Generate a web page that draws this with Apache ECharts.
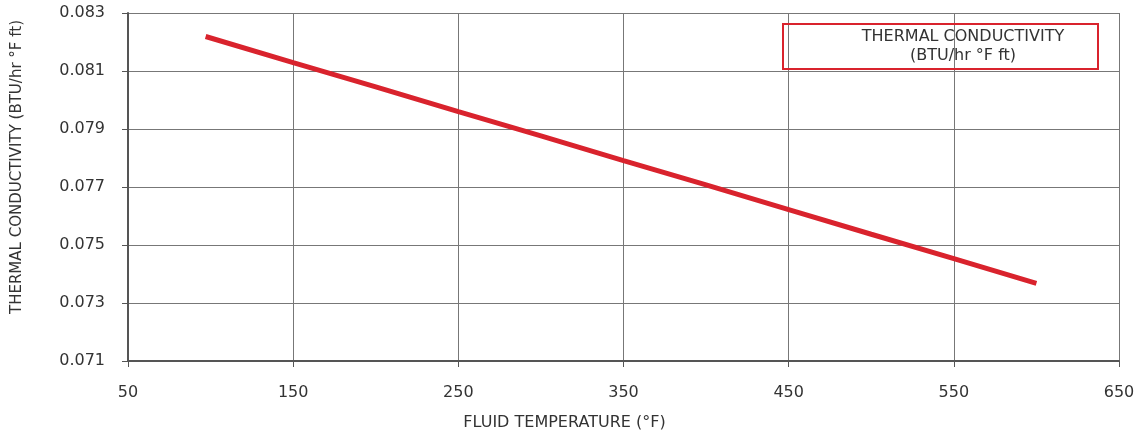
<!DOCTYPE html>
<html>
<head>
<meta charset="utf-8">
<script src="https://cdn.jsdelivr.net/npm/echarts@6/dist/echarts.min.js"></script>
<style>
  html, body { margin: 0; padding: 0; background: #fff; }
  #chart { width: 1144px; height: 436px; }
</style>
</head>
<body>
<div id="chart"></div>
<script>
// fluid temperature (°F) and thermal conductivity (BTU/hr °F ft)
const temps = [97, 150, 200, 250, 300, 350, 400, 450, 500, 550, 600];
const conductivity = [0.08219, 0.08129, 0.08045, 0.07960, 0.07876, 0.07791, 0.07707, 0.07622, 0.07537, 0.07453, 0.07368];

const seriesName = 'THERMAL CONDUCTIVITY';
const seriesUnit = '(BTU/hr °F ft)';

const chart = echarts.init(document.getElementById('chart'));

const font = 'DejaVu Sans';
const textColor = '#333';

const option = {
  backgroundColor: '#fff',
  animation: false,
  grid: { left: 128, right: 25, top: 13, bottom: 74 },
  legend: {
    data: [seriesName],
    right: 46,
    top: 24,
    icon: 'none',
    itemWidth: 0,
    itemGap: 0,
    borderColor: '#d9232d',
    borderWidth: 2,
    borderRadius: 0,
    padding: [5, 12, 5, 52],
    formatter: () => '{a|' + seriesName + '}\n{a|' + seriesUnit + '}',
    textStyle: {
      fontFamily: font,
      color: textColor,
      rich: {
        a: { width: 246, align: 'center', fontSize: 16, lineHeight: 19, fontFamily: font, color: textColor }
      }
    }
  },
  xAxis: {
    type: 'value',
    min: 50,
    max: 650,
    interval: 100,
    name: 'FLUID TEMPERATURE (°F)',
    nameLocation: 'middle',
    nameGap: 54,
    nameTextStyle: { fontFamily: font, fontSize: 16, color: textColor, padding: [0, 118, 0, 0] },
    axisLine: { show: true, lineStyle: { color: '#555', width: 2 } },
    axisTick: { show: true, length: 6, lineStyle: { color: '#555' } },
    axisLabel: { margin: 24, fontFamily: font, fontSize: 16, color: textColor },
    splitLine: { show: true, lineStyle: { color: '#777', width: 1 } }
  },
  yAxis: {
    type: 'value',
    min: 0.071,
    max: 0.083,
    interval: 0.002,
    name: 'THERMAL CONDUCTIVITY (BTU/hr °F ft)',
    nameLocation: 'middle',
    nameGap: 103,
    nameTextStyle: { fontFamily: font, fontSize: 15, color: textColor, padding: [0, 0, 0, 40] },
    axisLine: { show: true, lineStyle: { color: '#555', width: 2 } },
    axisTick: { show: true, length: 6, lineStyle: { color: '#555' } },
    axisLabel: {
      margin: 23,
      fontFamily: font,
      fontSize: 16,
      color: textColor,
      formatter: (v) => v.toFixed(3)
    },
    splitLine: { show: true, lineStyle: { color: '#777', width: 1 } }
  },
  series: [
    {
      name: seriesName,
      type: 'line',
      data: temps.map((t, i) => [t, conductivity[i]]),
      showSymbol: false,
      symbol: 'none',
      lineStyle: { color: '#d9232d', width: 5, cap: 'butt' },
      itemStyle: { color: '#d9232d' }
    }
  ]
};

chart.setOption(option);
</script>
</body>
</html>
